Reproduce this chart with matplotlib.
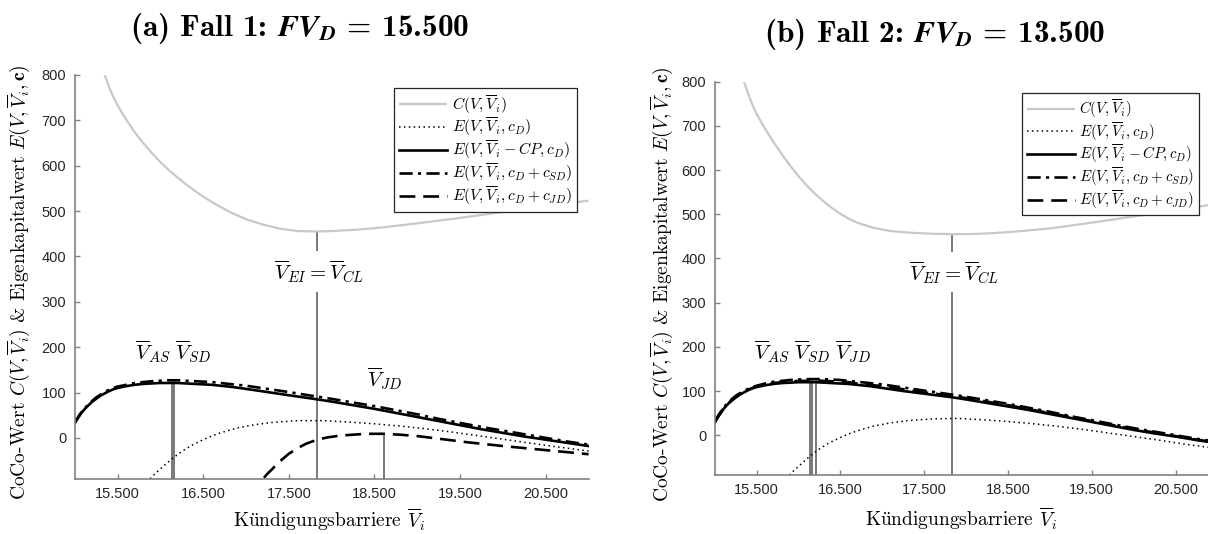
import matplotlib
matplotlib.use('Agg')
import matplotlib.pyplot as plt

plt.rcParams['font.family'] = ['Liberation Sans', 'DejaVu Sans']
plt.rcParams['mathtext.fontset'] = 'cm'
plt.rcParams['axes.formatter.use_mathtext'] = True

# ---------------- data ----------------
x_ticks = [15500, 16500, 17500, 18500, 19500, 20500]
x_tick_labels = ['15.500', '16.500', '17.500', '18.500', '19.500', '20.500']
y_ticks = [0, 100, 200, 300, 400, 500, 600, 700, 800]
y_tick_labels = ['0', '100', '200', '300', '400', '500', '600', '700', '800']

titles = [r'(a) Fall 1: $\mathbfit{FV_D}$ = 15.500',
          r'(b) Fall 2: $\mathbfit{FV_D}$ = 13.500']

legend_labels = [r'$C(V,\overline{V}_i)$',
                 r'$E(V,\overline{V}_i,c_D)$',
                 r'$E(V,\overline{V}_i-CP,c_D)$',
                 r'$E(V,\overline{V}_i,c_D+c_{SD})$',
                 r'$E(V,\overline{V}_i,c_D+c_{JD})$']

# Panel (a)
a_c_x = [15300, 15350, 15400, 15450, 15500, 15550, 15600, 15700, 15800, 15900, 16000,
         16100, 16200, 16300, 16400, 16500, 16600, 16800, 17000, 17200, 17400, 17600, 17830,
         18000, 18300, 18600, 19000, 19500, 20000, 20500, 21000]
a_c_y = [832, 800, 774, 752, 734, 717, 702, 674, 650, 628, 608,
         590, 574, 559, 545, 532, 520, 499, 482, 470, 461, 456, 455,
         456, 459, 464, 473, 485, 498, 511, 523]

e_x = [15000, 15025, 15050, 15075, 15100, 15150, 15200, 15250, 15300, 15350, 15400, 15450,
       15500, 15600, 15700, 15800, 15900, 16000, 16100, 16200, 16300, 16400, 16500, 16600,
       16700, 16850, 17000, 17250, 17500, 17830, 18000, 18250, 18500, 18750, 19000, 19250,
       19500, 19750, 20000, 20250, 20500, 20750, 21000]
a_e_solid = [32, 40, 47, 54, 60, 70, 79, 86, 93, 98, 103, 107,
             110, 114, 117, 119, 120, 121, 121, 121, 120, 119, 118, 117,
             115, 112, 108, 101, 94, 85, 80, 72, 64, 55, 46, 37,
             28, 19, 11, 3, -4, -11, -18]
a_e_sd = [33, 41, 49, 56, 62, 72, 81, 89, 95, 101, 106, 110,
          113, 117, 121, 123, 125, 126, 127, 127, 126, 125, 124, 123,
          121, 118, 115, 108, 101, 91, 86, 78, 70, 61, 52, 42,
          33, 24, 16, 8, 0, -8, -15]

a_e_dot_x = [15880, 15950, 16050, 16150, 16250, 16350, 16500, 16600, 16700, 16900, 17100, 17300,
             17600, 17900, 18200, 18500, 18800, 19100, 19400, 19700, 20000, 20300, 20600, 21000]
a_e_dot = [-90, -77, -60, -44, -30, -18, -4, 4, 11, 22, 29, 34,
           38, 38, 35, 31, 26, 20, 13, 5, -3, -11, -19, -29]

a_e_jd_x = [17210, 17250, 17300, 17350, 17400, 17450, 17500, 17600, 17700, 17830, 17950, 18100,
            18250, 18400, 18600, 18800, 19000, 19300, 19600, 20000, 20500, 21000]
a_e_jd = [-88, -79, -70, -60, -51, -43, -35, -23, -13, -4, 1, 5,
          7, 9, 9, 7, 4, -3, -10, -18, -27, -36]

a_bar_x = [16135, 16165, 17828, 18610]
a_bar_top = [121, 127, 455, 9]

# Panel (b)
b_c_x = [15300, 15350, 15400, 15450, 15500, 15600, 15700, 15800, 15900, 16000, 16100, 16200,
         16300, 16400, 16500, 16600, 16700, 16900, 17100, 17350, 17600, 17830, 18000, 18300,
         18600, 19000, 19500, 20000, 20500, 21000]
b_c_y = [830, 800, 772, 748, 727, 694, 664, 636, 610, 586, 565, 546,
         529, 514, 501, 490, 481, 469, 462, 458, 456, 455, 455, 457,
         461, 468, 481, 495, 509, 524]

b_e_solid = [28, 37, 44, 51, 58, 69, 78, 85, 92, 97, 102, 106,
             109, 113, 116, 118, 119, 120, 120, 120, 119, 118, 117, 116,
             114, 111, 107, 100, 94, 86, 81, 73, 65, 57, 48, 39,
             30, 21, 12, 4, -3, -11, -18]
b_e_sd = [30, 39, 47, 54, 61, 72, 81, 89, 95, 100, 105, 109,
          112, 117, 121, 123, 125, 126, 127, 127, 127, 126, 125, 123,
          121, 118, 115, 108, 101, 92, 87, 79, 71, 62, 53, 43,
          34, 25, 16, 8, 0, -8, -15]
b_e_jd = [29, 38, 45, 52, 59, 70, 79, 87, 93, 98, 103, 107,
          110, 115, 118, 120, 122, 123, 123, 124, 123, 122, 121, 120,
          117, 114, 111, 104, 97, 89, 84, 76, 68, 59, 50, 41,
          32, 23, 14, 6, -2, -10, -17]

b_e_dot_x = [15890, 15950, 16050, 16150, 16250, 16350, 16500, 16600, 16700, 16900, 17100, 17300,
             17600, 17900, 18200, 18500, 18800, 19100, 19400, 19700, 20000, 20300, 20600, 21000]
b_e_dot = [-90, -79, -62, -45, -31, -19, -5, 3, 10, 21, 28, 33,
           37, 38, 35, 31, 26, 20, 13, 5, -3, -11, -20, -30]

b_bar_x = [16135, 16165, 16212, 17828]
b_bar_top = [120, 127, 124, 455]

# ---------------- styles ----------------
spine_col = '#808080'
tick_col = '#262626'
bar_col = '#6e6e6e'
c_col = '#c8c8c8'

fig = plt.figure(figsize=(12.08, 5.34), dpi=100)
W, H = 1208.0, 534.0


def px_axes(l, r, t, b):
    return fig.add_axes([l / W, 1 - b / H, (r - l) / W, (b - t) / H])


ax_a = px_axes(74.7, 588.6, 75.0, 478.7)
ax_b = px_axes(714.7, 1217.5, 81.7, 475.0)


def style_axes(ax):
    ax.set_xlim(15000, 21000)
    ax.set_ylim(-90, 800)
    ax.set_xticks(x_ticks)
    ax.set_xticklabels(x_tick_labels)
    ax.set_yticks(y_ticks)
    ax.set_yticklabels(y_tick_labels)
    for s in ['top', 'right']:
        ax.spines[s].set_visible(False)
    for s in ['left', 'bottom']:
        ax.spines[s].set_color(spine_col)
        ax.spines[s].set_linewidth(1.2)
    ax.tick_params(direction='in', length=3.5, width=1.0, color=spine_col,
                   labelcolor=tick_col, labelsize=10.5, pad=6)


def draw(ax, c_x, c_y, solid, sd, jd_x, jd, dot_x, dot):
    l1, = ax.plot(c_x, c_y, color=c_col, lw=1.6, solid_capstyle='butt')
    l2, = ax.plot(dot_x, dot, color='black', lw=1.1, linestyle=(0, (1, 2.2)))
    l3, = ax.plot(e_x, solid, color='black', lw=1.9)
    l4, = ax.plot(e_x, sd, color='black', lw=1.9, linestyle=(0, (5, 2, 1.2, 2)))
    l5, = ax.plot(jd_x, jd, color='black', lw=1.9, linestyle=(0, (6, 3)))
    return [l1, l2, l3, l4, l5]


style_axes(ax_a)
style_axes(ax_b)

ax_a.vlines(a_bar_x, -90, a_bar_top, color=bar_col, lw=1.3, zorder=1)
ax_b.vlines(b_bar_x, -90, b_bar_top, color=bar_col, lw=1.3, zorder=1)

ha = draw(ax_a, a_c_x, a_c_y, a_e_solid, a_e_sd, a_e_jd_x, a_e_jd, a_e_dot_x, a_e_dot)
hb = draw(ax_b, b_c_x, b_c_y, b_e_solid, b_e_sd, e_x, b_e_jd, b_e_dot_x, b_e_dot)

ann_fs = 15
box = dict(facecolor='white', edgecolor='none', pad=5)
ax_a.text(17850, 367, r'$\overline{V}_{EI}=\overline{V}_{CL}$', ha='center', va='center',
          fontsize=ann_fs, bbox=box, zorder=3)
ax_b.text(17860, 369, r'$\overline{V}_{EI}=\overline{V}_{CL}$', ha='center', va='center',
          fontsize=ann_fs, bbox=box, zorder=3)
ax_a.text(16150, 190, r'$\overline{V}_{AS}\ \overline{V}_{SD}$', ha='center', va='center',
          fontsize=ann_fs)
ax_a.text(18618, 131, r'$\overline{V}_{JD}$', ha='center', va='center', fontsize=ann_fs)
ax_b.text(16160, 188, r'$\overline{V}_{AS}\ \overline{V}_{SD}\ \overline{V}_{JD}$',
          ha='center', va='center', fontsize=ann_fs)

for ax, h, anchor, lfs, hl in [(ax_a, ha, (0.977, 0.968), 11.3, 3.05),
                               (ax_b, hb, (0.963, 0.972), 10.8, 3.2)]:
    leg = ax.legend(h, legend_labels, loc='upper right', bbox_to_anchor=anchor,
                    borderaxespad=0, fancybox=False, framealpha=1, edgecolor='#262626',
                    fontsize=lfs, handlelength=hl, handletextpad=0.3, borderpad=0.3,
                    labelspacing=0.0)
    leg.get_frame().set_linewidth(0.9)

# axis labels
lab_fs = 14
ylab = r'CoCo-Wert $C(V,\overline{V}_i)$ & Eigenkapitalwert $E(V,\overline{V}_i,\mathbf{c})$'
xlab = r'K$\ddot{\mathrm{u}}$ndigungsbarriere $\overline{V}_i$'
fig.text(19 / W, 1 - 282 / H, ylab, rotation=90, ha='center', va='center',
         fontsize=lab_fs, family='cmr10')
fig.text(662 / W, 1 - 284 / H, ylab, rotation=90, ha='center', va='center',
         fontsize=lab_fs, family='cmr10')
fig.text(329 / W, 1 - 520 / H, xlab, ha='center', va='center', fontsize=lab_fs, family='cmr10')
fig.text(961 / W, 1 - 519 / H, xlab, ha='center', va='center', fontsize=lab_fs, family='cmr10')

# titles
fig.text(300 / W, 1 - 28 / H, titles[0], ha='center', va='center', fontsize=22.5,
         family='cmb10', math_fontfamily='stix')
fig.text(935 / W, 1 - 34 / H, titles[1], ha='center', va='center', fontsize=22.5,
         family='cmb10', math_fontfamily='stix')

fig.savefig('out.png', dpi=100)
